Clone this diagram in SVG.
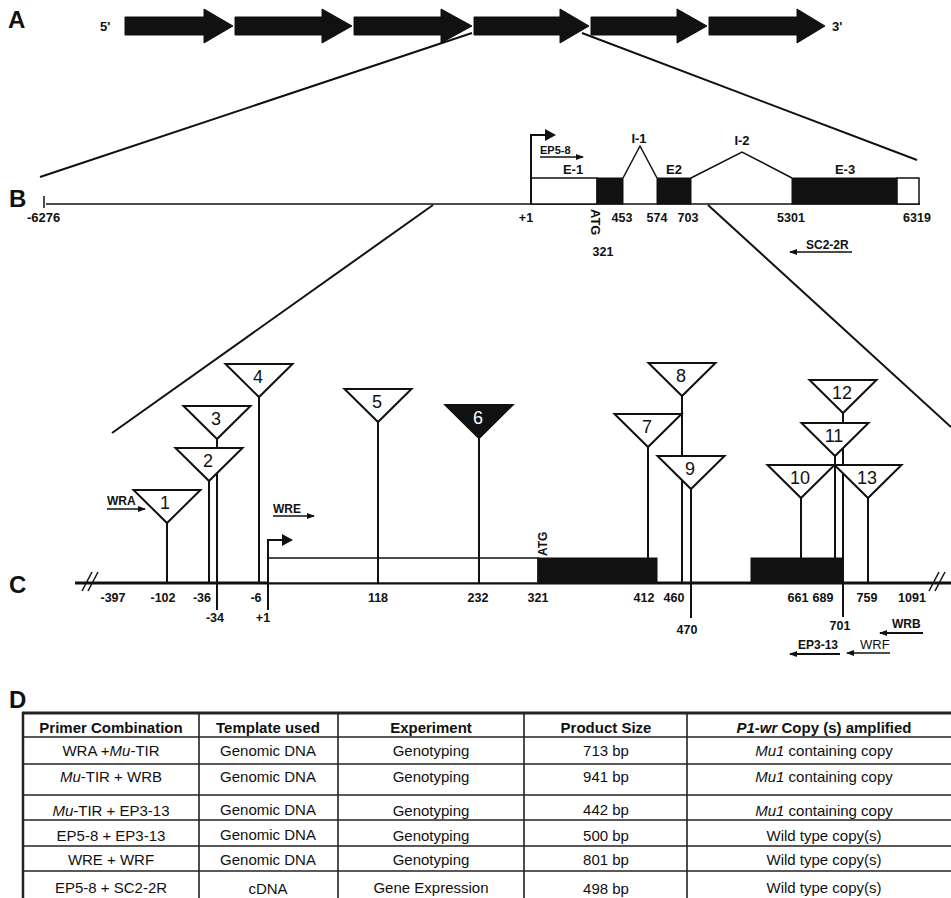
<svg xmlns="http://www.w3.org/2000/svg" width="951" height="898" viewBox="0 0 951 898">
<style>
text{font-family:"Liberation Sans",Arial,Helvetica,sans-serif;fill:#111}
.pl{font-size:24px;font-weight:bold}
.lb{font-size:13px;font-weight:bold}
.nm{font-size:12.5px;font-weight:bold;text-anchor:middle}
.tn{font-size:18px;text-anchor:middle}
.pr{font-size:12px;font-weight:bold}
.th{font-size:15px;font-weight:bold;text-anchor:middle}
.td{font-size:15px;text-anchor:middle}
.ln{stroke:#111;fill:none;stroke-width:2}
.thin{stroke:#111;fill:none;stroke-width:1.5}
.blk{fill:#111;stroke:#111;stroke-width:1}
.wht{fill:#fff;stroke:#111;stroke-width:1.5}
.tri{fill:#fff;stroke:#111;stroke-width:2;stroke-linejoin:miter}
.grid{stroke:#222;stroke-width:1.6}
</style>
<defs>
<marker id="ah" markerWidth="8" markerHeight="6" refX="7" refY="3" orient="auto" markerUnits="userSpaceOnUse">
<path d="M0,0 L8,3 L0,6 Z" fill="#111"/>
</marker>
<polygon id="tri" points="-33.5,-33 33.5,-33 0,0"/>
</defs>

<!-- Panel A -->
<g id="panelA">
<text class="pl" x="8" y="28">A</text>
<text class="lb" x="100" y="31">5'</text>
<text class="lb" x="832" y="31">3'</text>
<polygon class="blk" points="125,17 204,17 204,9 233,26 204,43 204,35 125,35"/>
<polygon class="blk" points="235,17 322,17 322,9 352,26 322,43 322,35 235,35"/>
<polygon class="blk" points="354,17 441,17 441,9 472,26 441,43 441,35 354,35"/>
<polygon class="blk" points="474,17 560,17 560,9 589,26 560,43 560,35 474,35"/>
<polygon class="blk" points="591,17 677,17 677,9 707,26 677,43 677,35 591,35"/>
<polygon class="blk" points="709,17 797,17 797,9 825,26 797,43 797,35 709,35"/>
</g>

<g id="connectors">
<line class="ln" x1="472" y1="33" x2="40" y2="177"/>
<line class="ln" x1="582" y1="33" x2="917" y2="160"/>
<line class="ln" x1="433" y1="205" x2="112" y2="433"/>
<line class="ln" x1="708" y1="205" x2="951" y2="427"/>
</g>

<!-- Panel B -->
<g id="panelB">
<text class="pl" x="9" y="207">B</text>
<line class="thin" x1="46" y1="204" x2="920" y2="204"/>
<line class="thin" x1="44" y1="196" x2="44" y2="208"/>
<text class="lb" x="27" y="222">-6276</text>
<rect class="wht" x="531" y="178" width="66" height="26"/>
<rect class="blk" x="597" y="178" width="26" height="26"/>
<polyline class="thin" points="623,178 640,146 657,178"/>
<rect class="blk" x="657" y="178" width="34" height="26"/>
<polyline class="thin" points="691,178 742,152 792,178"/>
<rect class="blk" x="792" y="178" width="105" height="26"/>
<rect class="wht" x="897" y="178" width="22" height="26"/>
<path class="ln" d="M531,204 V135 H546"/>
<polygon points="545,129 556,135 545,141" fill="#111"/>
<text class="pr" x="540" y="154" style="font-size:11px">EP5-8</text>
<line class="thin" x1="540" y1="157" x2="583" y2="157" marker-end="url(#ah)"/>
<text class="lb" x="573" y="174" text-anchor="middle">E-1</text>
<text class="lb" x="639" y="143" text-anchor="middle">I-1</text>
<text class="lb" x="674" y="174" text-anchor="middle">E2</text>
<text class="lb" x="742" y="145" text-anchor="middle">I-2</text>
<text class="lb" x="845" y="174" text-anchor="middle">E-3</text>
<text class="nm" x="526" y="222">+1</text>
<text class="lb" transform="translate(591,209) rotate(90)">ATG</text>
<text class="nm" x="603" y="256">321</text>
<text class="nm" x="622" y="222">453</text>
<text class="nm" x="657" y="222">574</text>
<text class="nm" x="688" y="222">703</text>
<text class="nm" x="791" y="222">5301</text>
<text class="nm" x="917" y="222">6319</text>
<text class="pr" x="806" y="249">SC2-2R</text>
<line class="thin" x1="852" y1="252" x2="790" y2="252" marker-end="url(#ah)"/>
</g>

<!-- Panel C -->
<g id="panelC">
<text class="pl" x="9" y="593">C</text>
<line x1="75" y1="583" x2="951" y2="583" stroke="#111" stroke-width="3"/>
<line class="thin" x1="82" y1="591" x2="92" y2="572"/>
<line class="thin" x1="88" y1="591" x2="98" y2="572"/>
<line class="thin" x1="929" y1="591" x2="939" y2="572"/>
<line class="thin" x1="935" y1="591" x2="945" y2="572"/>
<rect class="wht" x="268" y="558" width="270" height="25"/>
<rect class="blk" x="538" y="558" width="119" height="25"/>
<rect class="blk" x="751" y="558" width="92" height="25"/>
<path class="ln" d="M268,610 V540 H283"/>
<polygon points="282,534 293,540 282,546" fill="#111"/>
<text class="pr" transform="translate(547,556) rotate(-90)">ATG</text>
</g>

<g id="stems">
<line class="ln" x1="167" y1="523" x2="167" y2="583"/>
<line class="ln" x1="209" y1="481" x2="209" y2="583"/>
<line class="ln" x1="217" y1="439" x2="217" y2="610"/>
<line class="ln" x1="259" y1="397" x2="259" y2="583"/>
<line class="ln" x1="378" y1="422" x2="378" y2="583"/>
<line class="ln" x1="479" y1="438" x2="479" y2="583"/>
<line class="ln" x1="648" y1="447" x2="648" y2="583"/>
<line class="ln" x1="682" y1="396" x2="682" y2="583"/>
<line class="ln" x1="691" y1="489" x2="691" y2="618"/>
<line class="ln" x1="801" y1="498" x2="801" y2="583"/>
<line class="ln" x1="835" y1="456" x2="835" y2="583"/>
<line class="ln" x1="843" y1="413" x2="843" y2="617"/>
<line class="ln" x1="868" y1="498" x2="868" y2="583"/>
</g>

<g id="ins1"><use href="#tri" class="tri" x="167" y="523"/><text class="tn" x="165" y="509">1</text></g>
<g id="ins2"><use href="#tri" class="tri" x="209" y="481"/><text class="tn" x="208" y="467">2</text></g>
<g id="ins3"><use href="#tri" class="tri" x="217" y="439"/><text class="tn" x="216" y="425">3</text></g>
<g id="ins4"><use href="#tri" class="tri" x="259" y="397"/><text class="tn" x="258" y="383">4</text></g>
<g id="ins5"><use href="#tri" class="tri" x="378" y="422"/><text class="tn" x="377" y="408">5</text></g>
<g id="ins6"><use href="#tri" x="479" y="438" fill="#111" stroke="#111" stroke-width="2"/><text class="tn" x="478" y="424" style="fill:#fff">6</text></g>
<g id="ins7"><use href="#tri" class="tri" x="648" y="447"/><text class="tn" x="647" y="433">7</text></g>
<g id="ins8"><use href="#tri" class="tri" x="682" y="396"/><text class="tn" x="681" y="382">8</text></g>
<g id="ins9"><use href="#tri" class="tri" x="691" y="489"/><text class="tn" x="690" y="475">9</text></g>
<g id="ins10"><use href="#tri" class="tri" x="801" y="498"/><text class="tn" x="800" y="484">10</text></g>
<g id="ins11"><use href="#tri" class="tri" x="835" y="456"/><text class="tn" x="834" y="442">11</text></g>
<g id="ins12"><use href="#tri" class="tri" x="843" y="413"/><text class="tn" x="842" y="399">12</text></g>
<g id="ins13"><use href="#tri" class="tri" x="868" y="498"/><text class="tn" x="867" y="484">13</text></g>

<g id="axisLabelsC">
<text class="nm" x="113" y="602">-397</text>
<text class="nm" x="163" y="602">-102</text>
<text class="nm" x="202" y="602">-36</text>
<text class="nm" x="215" y="622">-34</text>
<text class="nm" x="256" y="602">-6</text>
<text class="nm" x="263" y="622">+1</text>
<text class="nm" x="378" y="602">118</text>
<text class="nm" x="478" y="602">232</text>
<text class="nm" x="538" y="602">321</text>
<text class="nm" x="644" y="602">412</text>
<text class="nm" x="674" y="602">460</text>
<text class="nm" x="687" y="634">470</text>
<text class="nm" x="798" y="602">661</text>
<text class="nm" x="823" y="602">689</text>
<text class="nm" x="840" y="630">701</text>
<text class="nm" x="867" y="602">759</text>
<text class="nm" x="912" y="602">1091</text>
</g>

<g id="primersC">
<text class="pr" x="107" y="505">WRA</text>
<line class="thin" x1="107" y1="509" x2="145" y2="509" marker-end="url(#ah)"/>
<text class="pr" x="273" y="513">WRE</text>
<line class="thin" x1="273" y1="516" x2="314" y2="516" marker-end="url(#ah)"/>
<text class="pr" x="892" y="628">WRB</text>
<line class="ln" x1="923" y1="633" x2="880" y2="633" marker-end="url(#ah)"/>
<text x="860" y="649" style="font-size:13px">WRF</text>
<line class="thin" x1="890" y1="653" x2="847" y2="653" marker-end="url(#ah)"/>
<text class="pr" x="798" y="649">EP3-13</text>
<line class="ln" x1="840" y1="654" x2="790" y2="654" marker-end="url(#ah)"/>
</g>

<!-- Panel D -->
<g id="panelD">
<text class="pl" x="9" y="708">D</text>
<line x1="22" y1="713" x2="951" y2="713" stroke="#222" stroke-width="3"/>
<line x1="23" y1="712" x2="23" y2="898" stroke="#222" stroke-width="2.5"/>
<line class="grid" x1="199" y1="713" x2="199" y2="898"/>
<line class="grid" x1="338" y1="713" x2="338" y2="898"/>
<line class="grid" x1="524" y1="713" x2="524" y2="898"/>
<line class="grid" x1="687" y1="713" x2="687" y2="898"/>
<line class="grid" x1="23" y1="737" x2="951" y2="737"/>
<line class="grid" x1="23" y1="764" x2="951" y2="764"/>
<line class="grid" x1="23" y1="795" x2="951" y2="795"/>
<line class="grid" x1="23" y1="820" x2="951" y2="820"/>
<line class="grid" x1="23" y1="846" x2="951" y2="846"/>
<line class="grid" x1="23" y1="871" x2="951" y2="871"/>
<text class="th" x="111" y="733">Primer Combination</text>
<text class="th" x="268" y="733">Template used</text>
<text class="th" x="431" y="733">Experiment</text>
<text class="th" x="606" y="733">Product Size</text>
<text class="th" x="824" y="733"><tspan font-style="italic">P1-wr</tspan> Copy (s) amplified</text>

<text class="td" x="111" y="756">WRA +<tspan font-style="italic">Mu</tspan>-TIR</text>
<text class="td" x="268" y="756">Genomic DNA</text>
<text class="td" x="431" y="756">Genotyping</text>
<text class="td" x="606" y="756">713 bp</text>
<text class="td" x="824" y="756"><tspan font-style="italic">Mu1</tspan> containing copy</text>

<text class="td" x="111" y="782"><tspan font-style="italic">Mu</tspan>-TIR + WRB</text>
<text class="td" x="268" y="782">Genomic DNA</text>
<text class="td" x="431" y="782">Genotyping</text>
<text class="td" x="606" y="782">941 bp</text>
<text class="td" x="824" y="782"><tspan font-style="italic">Mu1</tspan> containing copy</text>

<text class="td" x="111" y="816"><tspan font-style="italic">Mu</tspan>-TIR + EP3-13</text>
<text class="td" x="268" y="815">Genomic DNA</text>
<text class="td" x="431" y="816">Genotyping</text>
<text class="td" x="606" y="815">442 bp</text>
<text class="td" x="824" y="816"><tspan font-style="italic">Mu1</tspan> containing copy</text>

<text class="td" x="111" y="841">EP5-8 + EP3-13</text>
<text class="td" x="268" y="840">Genomic DNA</text>
<text class="td" x="431" y="841">Genotyping</text>
<text class="td" x="606" y="841">500 bp</text>
<text class="td" x="824" y="841">Wild type copy(s)</text>

<text class="td" x="111" y="865">WRE + WRF</text>
<text class="td" x="268" y="865">Genomic DNA</text>
<text class="td" x="431" y="865">Genotyping</text>
<text class="td" x="606" y="865">801 bp</text>
<text class="td" x="824" y="865">Wild type copy(s)</text>

<text class="td" x="111" y="893">EP5-8 + SC2-2R</text>
<text class="td" x="268" y="894">cDNA</text>
<text class="td" x="431" y="893">Gene Expression</text>
<text class="td" x="606" y="894">498 bp</text>
<text class="td" x="824" y="893">Wild type copy(s)</text>
</g>
</svg>
